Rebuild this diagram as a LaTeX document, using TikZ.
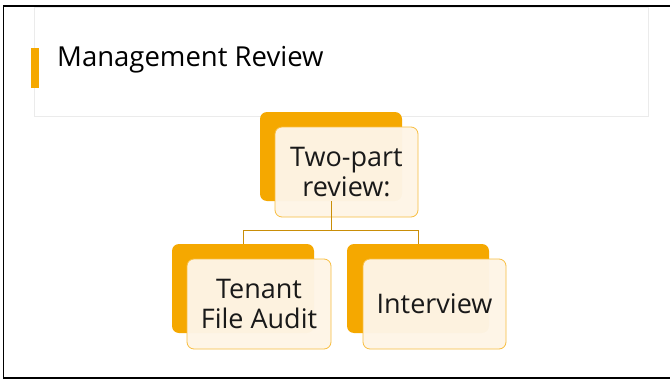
\documentclass[tikz,border=0pt]{standalone}
\usepackage{fontspec}
\setmainfont{Open Sans}
\definecolor{org}{HTML}{F5A800}
\definecolor{cream}{HTML}{FEF5E7}
\definecolor{conn}{HTML}{C98E08}
\begin{document}
\begin{tikzpicture}[x=1pt,y=-1pt,
  backbox/.style={fill=org, rounded corners=7pt},
  frontbox/.style={fill=cream, fill opacity=0.97, draw=org!75, line width=0.8pt, rounded corners=7pt, text opacity=1},
  lbl/.style={font=\fontsize{27}{30}\selectfont, align=center, text=black!90},
  link/.style={draw=conn, line width=0.9pt}]
\useasboundingbox (0,0) rectangle (670,380);
\fill[white] (0,0) rectangle (670,380);
% frame
\draw[line width=1.6pt] (670,6) -- (3.5,6) -- (3.5,378) -- (670,378);
% title area
\draw[black!8, line width=0.8pt] (34,7) rectangle (648,116);
\fill[org] (31,48) rectangle (38.5,88);
\node[anchor=base west, font=\fontsize{27.5}{30}\selectfont, inner sep=0] (title) at (57,66) {Management Review};
% top
\fill[backbox] (260,112) rectangle (402,201);
\coordinate (tb) at (331,201);
\draw[frontbox] (275,127) rectangle (418,217);
\node[lbl] (top) at (346.5,172) {Two-part\\review:};
% children backs
\fill[backbox] (172,244) rectangle (314,333);
\fill[backbox] (347,244) rectangle (489,333);
\coordinate (lt) at (243,244);
\coordinate (rt) at (418,244);
% connectors
\draw[link] (tb) -- (331,230) -| (lt);
\draw[link] (331,230) -| (rt);
% fronts
\draw[frontbox] (187,259) rectangle (331,349);
\draw[frontbox] (363,259) rectangle (506,349);
\node[lbl] (left) at (259,304) {Tenant\\File Audit};
\node[lbl] (right) at (434.5,304) {Interview};
\end{tikzpicture}
\end{document}
